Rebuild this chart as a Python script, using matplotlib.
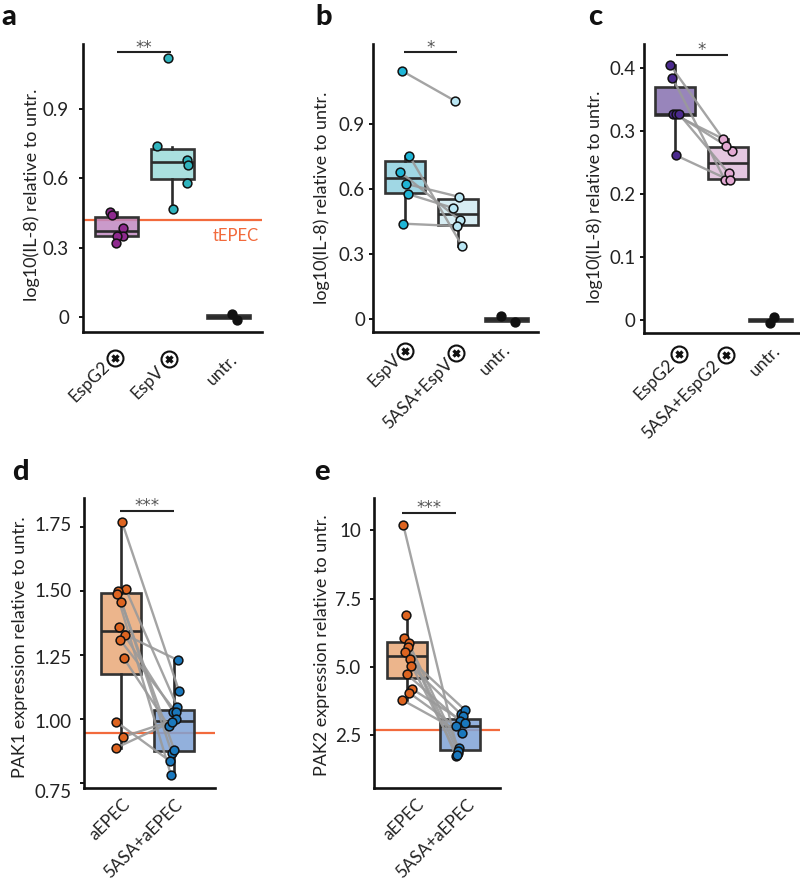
import matplotlib
matplotlib.use("Agg")
import matplotlib.pyplot as plt
from matplotlib.colors import to_rgba
from matplotlib.transforms import ScaledTranslation, offset_copy

plt.rcParams["font.family"] = ["Lato", "DejaVu Sans"]

W, H = 800, 881

# a
a_espg2 = [0.453, 0.443, 0.385, 0.352, 0.349, 0.318]
a_espg2_dx = [-0.12, -0.08, 0.11, 0.11, 0.01, -0.02]
a_espv = [1.124, 0.741, 0.68, 0.658, 0.58, 0.466]
a_espv_dx = [-0.07, -0.28, 0.27, 0.29, 0.27, 0.01]
a_untr = [0.013, -0.014]
a_untr_dx = [0.06, 0.16]
a_boxes = [(0.318, 0.35, 0.373, 0.431, 0.453), (0.466, 0.598, 0.67, 0.728, 0.738), (-0.006, -0.006, 0, 0.006, 0.006)]

# b
b_espv = [1.142, 0.753, 0.678, 0.624, 0.577, 0.44]
b_espv_dx = [-0.05, 0.08, -0.09, 0.01, 0.05, -0.03]
b_5asa = [1.004, 0.337, 0.455, 0.564, 0.512, 0.429]
b_5asa_dx = [-0.05, 0.08, 0.04, 0.01, -0.09, -0.02]
b_untr = [0.015, -0.014]
b_untr_dx = [-0.11, 0.16]
b_boxes = [(0.44, 0.583, 0.65, 0.73, 0.753), (0.337, 0.434, 0.486, 0.554, 0.564), (-0.006, -0.006, 0, 0.006, 0.006)]

# c
c_espg2 = [0.405, 0.385, 0.327, 0.327, 0.327, 0.262]
c_espg2_dx = [-0.09, -0.05, -0.03, 0.02, 0.08, 0.01]
c_5asa = [0.268, 0.222, 0.288, 0.277, 0.233, 0.222]
c_5asa_dx = [0.08, -0.05, -0.09, -0.03, 0.02, 0.04]
c_untr = [0.005, -0.004]
c_untr_dx = [0.057, -0.013]
c_boxes = [(0.262, 0.326, 0.327, 0.371, 0.405), (0.222, 0.224, 0.25, 0.275, 0.288), (-0.002, -0.002, 0, 0.002, 0.002)]

# d
d_aepec = [1.77, 1.51, 1.499, 1.489, 1.458, 1.36, 1.33, 1.309, 1.238, 0.988, 0.929, 0.886]
d_aepec_dx = [0.025, 0.09, -0.05, -0.07, 0.01, -0.025, 0.075, -0.01, 0.055, -0.08, 0.04, -0.09]
d_5asa = [1.108, 1.048, 0.866, 0.779, 0.878, 1.028, 1.229, 1.028, 0.971, 0.834, 0.998, 0.989]
d_5asa_dx = [0.09, 0.055, -0.045, -0.06, 0.0, -0.02, 0.075, 0.025, -0.10, -0.075, 0.035, -0.04]
d_boxes = [(0.886, 1.176, 1.344, 1.491, 1.77), (0.779, 0.873, 0.993, 1.033, 1.229)]

# e, the 6.88 point has no connecting line in the figure
e_aepec = [10.2, 6.88, 6.05, 5.87, 5.74, 5.53, 5.27, 5.01, 4.73, 4.18, 4.04, 3.78]
e_aepec_dx = [-0.07, -0.025, -0.055, 0.03, 0.01, -0.04, 0.06, 0.08, -0.005, 0.10, 0.045, -0.085]
e_5asa = [1.85, 3.28, 1.73, 2.01, 1.90, 1.77, 3.43, 3.18, 3.01, 2.95, 2.82, 2.57]
e_5asa_dx = [-0.04, 0.005, -0.08, -0.025, -0.045, -0.055, 0.08, 0.055, -0.005, 0.09, -0.09, 0.04]
e_boxes = [(3.78, 4.59, 5.38, 5.92, 6.88), (1.73, 1.96, 2.82, 3.07, 3.43)]

fig = plt.figure(figsize=(W / 100, H / 100), dpi=100)

TEXT = "#222222"
FS_TICK = 13.5
FS_LABEL = 13
FS_X = 12.5


def make_axes(left, right, top, bottom, tick_a, tick_b, yticks, yticklabels, pad):
    # axes laid out in picture pixels, two known ticks fix the y scale
    ax = fig.add_axes([left / W, 1 - bottom / H, (right - left) / W, (bottom - top) / H])
    (va, pa), (vb, pb) = tick_a, tick_b
    per_px = (vb - va) / (pa - pb)
    ax.set_ylim(va - (bottom - pa) * per_px, va + (pa - top) * per_px)
    ax.set_xlim(left, right)
    ax.set_yticks(yticks)
    ax.set_yticklabels(yticklabels, fontsize=FS_TICK, color=TEXT)
    ax.tick_params(axis="y", length=3, width=1.3, pad=pad)
    for s in ["top", "right"]:
        ax.spines[s].set_visible(False)
    for s in ["left", "bottom"]:
        ax.spines[s].set_linewidth(1.9)
        ax.spines[s].set_color("#111111")
    return ax


def draw_boxes(ax, centers, boxes, fills, widths):
    stats = [dict(whislo=b[0], q1=b[1], med=b[2], q3=b[3], whishi=b[4], fliers=[]) for b in boxes]
    line = dict(color="#2b2b2b", linewidth=1.9)
    res = ax.bxp(stats, positions=centers, widths=widths, patch_artist=True, showfliers=False, showcaps=False,
                 boxprops=dict(edgecolor="#333333", linewidth=1.9), medianprops=line, whiskerprops=line,
                 manage_ticks=False, zorder=2)
    for patch, fill in zip(res["boxes"], fills):
        patch.set_facecolor(to_rgba(fill, 0.85))


def draw_points(ax, center, spacing, values, dx, color):
    xs = [center + d * spacing for d in dx]
    ax.scatter(xs, values, s=40, color=color, edgecolor="#111111", linewidth=1.1, zorder=4, clip_on=False)
    return xs


def draw_pairs(ax, x1, y1, x2, y2, skip=()):
    for i, (xa, ya, xb, yb) in enumerate(zip(x1, y1, x2, y2)):
        if i in skip:
            continue
        ax.plot([xa, xb], [ya, yb], color="#9a9a9a", lw=1.7, alpha=0.9, zorder=3)


def sig_bar(ax, x1, x2, y, stars):
    ax.plot([x1, x2], [y, y], color="#222222", lw=1.5, zorder=5, clip_on=False, solid_capstyle="butt")
    ax.annotate(stars, xy=((x1 + x2) / 2, y), xytext=(0, -3), textcoords="offset points", ha="center", va="bottom",
                fontsize=12, color="#555555", family="DejaVu Sans")


def set_xlabels(ax, centers, labels, offsets, icons=None):
    ax.set_xticks(centers)
    ax.set_xticklabels(labels, rotation=45, ha="right", va="center", rotation_mode="anchor", fontsize=FS_X, color=TEXT)
    ax.tick_params(axis="x", length=0, pad=0)
    for lab, (dx, dy) in zip(ax.get_xticklabels(), offsets):
        lab.set_transform(lab.get_transform() + ScaledTranslation(dx / 100, dy / 100, fig.dpi_scale_trans))
    if icons is None:
        return
    base = ax.get_xaxis_transform()
    for c, (dx, dy) in zip(centers, icons):
        t = offset_copy(base, fig=fig, x=dx, y=dy, units="dots")
        ax.plot([c], [0], marker="o", ms=11.5, mfc="white", mec="#111111", mew=1.5, transform=t, clip_on=False)
        ax.plot([c], [0], marker="x", ms=5, mec="#111111", mew=2.4, transform=t, clip_on=False)


def set_ylabel(ax, text, x_px, y_px, left, right, top, bottom):
    ax.set_ylabel(text, fontsize=FS_LABEL, color=TEXT, va="center")
    ax.yaxis.set_label_coords((x_px - left) / (right - left), (bottom - y_px) / (bottom - top))


ORANGE = "#f26a3c"

# panel a
box = (83, 262, 44, 332)
cx = [116.7, 172.3, 228.3]
ax = make_axes(*box, (0, 316.7), (0.9, 109.3), [0, 0.3, 0.6, 0.9], ["0", "0.3", "0.6", "0.9"], 7)
ax.axhline(0.42, color=ORANGE, lw=1.6, zorder=1)
draw_boxes(ax, cx, a_boxes, ["#c188c1", "#9bdbda", "#333333"], 43)
draw_points(ax, cx[0], 55.7, a_espg2, a_espg2_dx, "#8e2a8e")
draw_points(ax, cx[1], 55.7, a_espv, a_espv_dx, "#2fb3bd")
draw_points(ax, cx[2], 55.7, a_untr, a_untr_dx, "#111111")
sig_bar(ax, 117, 171, 1.147, "**")
ax.annotate("tEPEC", xy=(259, 0.42), xytext=(0, -6), textcoords="offset points", ha="right", va="top", fontsize=12, color=ORANGE)
set_xlabels(ax, cx, ["EspG2", "EspV", "untr."], [(-10, -32), (-11, -37), (7, -25)], [(-2, -26), (-3, -27)])
set_ylabel(ax, "log10(IL-8) relative to untr.", 32, 195, *box)

# panel b
box = (373.3, 538, 44, 332)
cx = [405, 458, 506.7]
ax = make_axes(*box, (0, 319.3), (0.9, 123.7), [0, 0.3, 0.6, 0.9], ["0", "0.3", "0.6", "0.9"], 3)
draw_boxes(ax, cx, b_boxes, ["#8fd0e0", "#d0eaf2", "#333333"], [40, 40, 43])
xa = draw_points(ax, cx[0], 53, b_espv, b_espv_dx, "#1fb5d6")
xb = draw_points(ax, cx[1], 53, b_5asa, b_5asa_dx, "#b9e6f3")
draw_pairs(ax, xa, b_espv, xb, b_5asa)
draw_points(ax, cx[2], 53, b_untr, b_untr_dx, "#111111")
sig_bar(ax, 404, 457, 1.228, "*")
set_xlabels(ax, cx, ["EspV", "5ASA+EspV", "untr."], [(-7, -25), (-7, -29), (1, -15)], [(0, -19), (-2, -21)])
set_ylabel(ax, "log10(IL-8) relative to untr.", 322, 198, *box)

# panel c
box = (643.7, 800, 44, 332.7)
cx = [675, 727.7, 770.7]
ax = make_axes(*box, (0, 320), (0.4, 68.3), [0, 0.1, 0.2, 0.3, 0.4], ["0", "0.1", "0.2", "0.3", "0.4"], 3)
draw_boxes(ax, cx, c_boxes, ["#8670b0", "#e0bedb", "#333333"], [40, 40, 43])
xa = draw_points(ax, cx[0], 52.7, c_espg2, c_espg2_dx, "#4b2a8e")
xb = draw_points(ax, cx[1], 52.7, c_5asa, c_5asa_dx, "#e3a9d3")
draw_pairs(ax, xa, c_espg2, xb, c_5asa)
draw_points(ax, cx[2], 52.7, c_untr, c_untr_dx, "#111111")
sig_bar(ax, 676, 728, 0.421, "*")
set_xlabels(ax, cx, ["EspG2", "5ASA+EspG2", "untr."], [(-3, -29), (-10, -31), (7, -15)], [(4, -21), (-2, -22)])
set_ylabel(ax, "log10(IL-8) relative to untr.", 595, 197, *box)

# panel d
box = (84, 215, 498, 787.7)
cx = [120.7, 174.3]
ax = make_axes(*box, (0.75, 782.7), (1.75, 527.3), [0.75, 1, 1.25, 1.5, 1.75], ["0.75", "1.00", "1.25", "1.50", "1.75"], 6)
# labels in this panel sit a little off their ticks in the figure
for lab, dy in zip(ax.get_yticklabels(), [-8, -2, -2, 1, 3]):
    lab.set_transform(lab.get_transform() + ScaledTranslation(0, dy / 100, fig.dpi_scale_trans))
ax.axhline(0.945, color=ORANGE, lw=1.6, zorder=1)
draw_boxes(ax, cx, d_boxes, ["#e9a878", "#7fa3d6"], 40)
xa = draw_points(ax, cx[0], 53.6, d_aepec, d_aepec_dx, "#dd6420")
xb = draw_points(ax, cx[1], 53.6, d_5asa, d_5asa_dx, "#1a78bd")
draw_pairs(ax, xa, d_aepec, xb, d_5asa)
sig_bar(ax, 120, 174, 1.814, "***")
set_xlabels(ax, cx, ["aEPEC", "5ASA+aEPEC"], [(7, -14), (6, -14)])
set_ylabel(ax, "PAK1 expression relative to untr.", 20, 647, *box)

# panel e
box = (373.7, 500, 498, 787.7)
cx = [407, 460.3]
ax = make_axes(*box, (2.5, 735), (10, 530.3), [2.5, 5, 7.5, 10], ["2.5", "5.0", "7.5", "10"], 6)
ax.axhline(2.67, color=ORANGE, lw=1.6, zorder=1)
draw_boxes(ax, cx, e_boxes, ["#e9a878", "#7fa3d6"], 40)
xa = draw_points(ax, cx[0], 53.3, e_aepec, e_aepec_dx, "#dd6420")
xb = draw_points(ax, cx[1], 53.3, e_5asa, e_5asa_dx, "#1a78bd")
draw_pairs(ax, xa, e_aepec, xb, e_5asa, skip=(1,))
sig_bar(ax, 402, 456, 10.63, "***")
set_xlabels(ax, cx, ["aEPEC", "5ASA+aEPEC"], [(15, -14), (12, -14)])
set_ylabel(ax, "PAK2 expression relative to untr.", 322, 645, *box)

# panel letters
for letter, x, y in [("a", 1, 25), ("b", 315, 25), ("c", 588, 25), ("d", 12, 480), ("e", 314, 480)]:
    fig.text(x / W, 1 - y / H, letter, fontsize=21, fontweight="black", color="#111111", ha="left", va="baseline")

fig.savefig("out.png", dpi=100)
